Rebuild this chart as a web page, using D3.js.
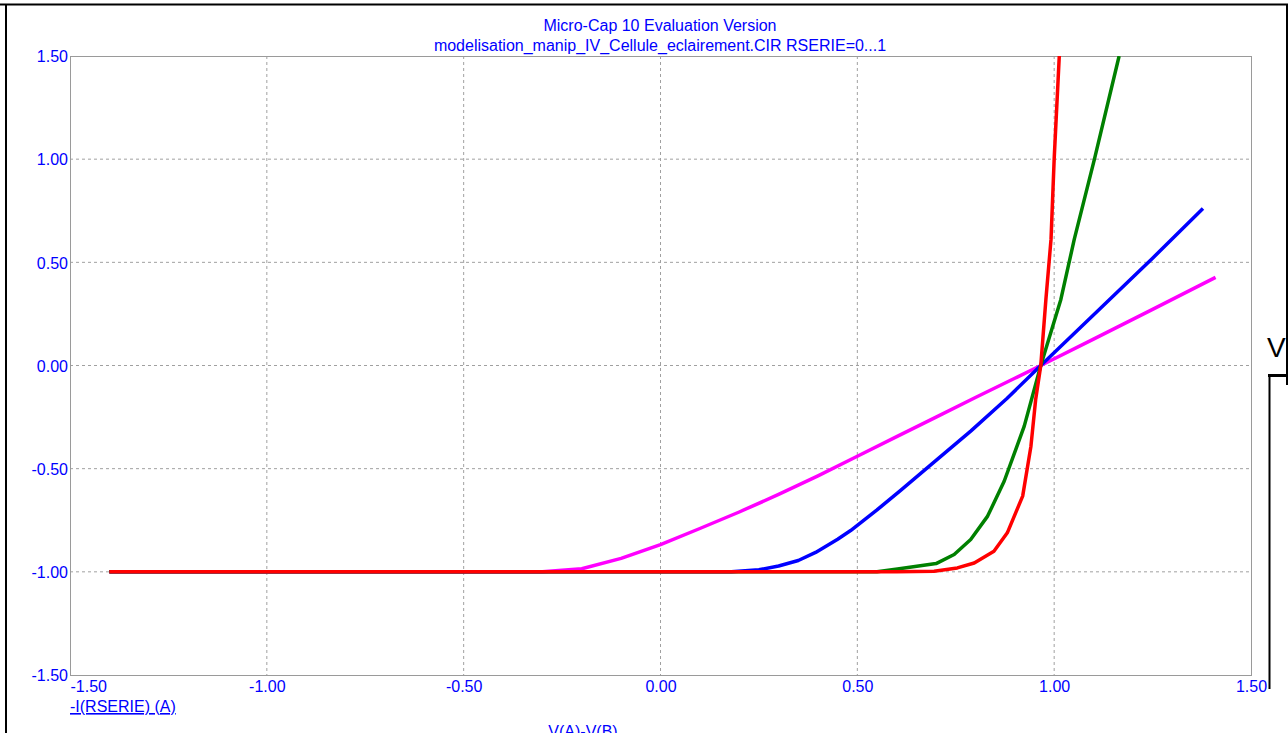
<!DOCTYPE html>
<html>
<head>
<meta charset="utf-8">
<script src="https://cdn.jsdelivr.net/npm/d3@7"></script>
<style>
  html, body { margin: 0; padding: 0; background: #fff; }
  svg { display: block; font-family: "Liberation Sans", Arial, sans-serif; }
</style>
</head>
<body>
<svg id="chart" width="1288" height="733"></svg>
<script>
// ---- data ----
const titleLines = ["Micro-Cap 10 Evaluation Version",
                    "modelisation_manip_IV_Cellule_eclairement.CIR RSERIE=0...1"];
const xTicks = [-1.5, -1.0, -0.5, 0.0, 0.5, 1.0, 1.5];
const yTicks = [-1.5, -1.0, -0.5, 0.0, 0.5, 1.0, 1.5];
const yAxisTitle = "-I(RSERIE) (A)";
const xAxisTitle = "V(A)-V(B)";

const magentaV = [-1.40, -0.3, -0.2, -0.1, 0.0, 0.1, 0.2, 0.3, 0.4, 0.5, 0.6, 0.7, 0.8, 0.9, 0.966, 1.1, 1.25, 1.41];
const magentaI = [-1.0, -1.0, -0.985, -0.935, -0.868, -0.79, -0.71, -0.625, -0.535, -0.44, -0.345, -0.25, -0.155, -0.062, 0.0, 0.128, 0.272, 0.427];

const blueV = [-1.40, 0.18, 0.25, 0.3, 0.35, 0.394, 0.45, 0.483, 0.55, 0.61, 0.7, 0.788, 0.88, 0.966, 1.119, 1.25, 1.378];
const blueI = [-1.0, -1.0, -0.99, -0.972, -0.945, -0.906, -0.842, -0.80, -0.70, -0.605, -0.46, -0.318, -0.16, 0.0, 0.28, 0.52, 0.761];

const greenV = [-1.40, 0.55, 0.602, 0.70, 0.746, 0.788, 0.831, 0.873, 0.924, 0.966, 1.017, 1.051, 1.102, 1.165];
const greenI = [-1.0, -1.0, -0.986, -0.96, -0.916, -0.843, -0.73, -0.561, -0.294, 0.0, 0.32, 0.611, 0.998, 1.5];

const redV = [-1.40, 0.60, 0.695, 0.754, 0.797, 0.847, 0.881, 0.92, 0.941, 0.953, 0.966, 0.979, 0.992, 1.0, 1.013];
const redI = [-1.0, -1.0, -0.997, -0.981, -0.957, -0.9, -0.811, -0.633, -0.391, -0.165, 0.0, 0.32, 0.611, 1.0, 1.5];

const series = [
  {name: "magenta", v: magentaV, i: magentaI, color: "#ff00ff"},
  {name: "blue",    v: blueV,    i: blueI,    color: "#0000ff"},
  {name: "green",   v: greenV,   i: greenI,   color: "#008000"},
  {name: "red",     v: redV,     i: redI,     color: "#ff0000"}
];

// ---- layout ----
const svg = d3.select("#chart");
const L = 70, R = 1251, T = 56, B = 675;
const x = d3.scaleLinear().domain([-1.5, 1.5]).range([L, R]);
const y = d3.scaleLinear().domain([-1.5, 1.5]).range([B, T]);
const blue = "#0000ff";
const gridColor = "#a0a0a0";
const fmt = d => d.toFixed(2);   // plain hyphen-minus like the original

// outer page frame lines (black)
svg.append("line").attr("x1", 0).attr("x2", 1288).attr("y1", 4.5).attr("y2", 4.5)
  .attr("stroke", "#000").attr("stroke-width", 2);
svg.append("line").attr("x1", 6).attr("x2", 6).attr("y1", 4).attr("y2", 733)
  .attr("stroke", "#000").attr("stroke-width", 2);
svg.append("line").attr("x1", 1287).attr("x2", 1287).attr("y1", 4).attr("y2", 385)
  .attr("stroke", "#000").attr("stroke-width", 2);
// right bracket + V
svg.append("line").attr("x1", 1268).attr("x2", 1288).attr("y1", 375.5).attr("y2", 375.5)
  .attr("stroke", "#000").attr("stroke-width", 3);
svg.append("line").attr("x1", 1269.5).attr("x2", 1269.5).attr("y1", 375).attr("y2", 689)
  .attr("stroke", "#000").attr("stroke-width", 2);
svg.append("text").attr("x", 1267).attr("y", 357).attr("font-size", 28)
  .attr("fill", "#000").text("V");

// grid
const grid = svg.append("g");
xTicks.filter(t => t > -1.5 && t < 1.5).forEach(t => {
  grid.append("line").attr("x1", x(t)).attr("x2", x(t)).attr("y1", T).attr("y2", B)
    .attr("stroke", gridColor).attr("stroke-width", 1).attr("stroke-dasharray", "3,3");
});
yTicks.filter(t => t > -1.5 && t < 1.5).forEach(t => {
  grid.append("line").attr("x1", L).attr("x2", R).attr("y1", y(t)).attr("y2", y(t))
    .attr("stroke", gridColor).attr("stroke-width", 1).attr("stroke-dasharray", "3,3");
});

// plot frame
svg.append("rect").attr("x", L + 0.5).attr("y", T + 0.5)
  .attr("width", R - L).attr("height", B - T)
  .attr("fill", "none").attr("stroke", "#9a9a9a").attr("stroke-width", 1);

// axes via d3
const yAxis = d3.axisLeft(y).tickValues(yTicks).tickSize(0).tickPadding(0).tickFormat(fmt);
const gy = svg.append("g").attr("transform", `translate(${L - 2},0)`).call(yAxis);
gy.select(".domain").remove();
gy.selectAll("text").attr("fill", blue).attr("font-size", 16)
  .attr("font-family", "Liberation Sans, Arial, sans-serif").attr("dy", "0.36em");

const xAxis = d3.axisBottom(x).tickValues(xTicks).tickSize(0).tickPadding(0).tickFormat(fmt);
const gx = svg.append("g").attr("transform", `translate(0,${B})`).call(xAxis);
gx.select(".domain").remove();
gx.selectAll("text").attr("fill", blue).attr("font-size", 16)
  .attr("font-family", "Liberation Sans, Arial, sans-serif")
  .attr("dy", null).attr("y", 17)
  .attr("text-anchor", d => d === -1.5 ? "start" : "middle");

// titles
titleLines.forEach((t, k) => {
  svg.append("text").attr("x", 660).attr("y", 31 + k * 20)
    .attr("text-anchor", "middle").attr("font-size", 16).attr("fill", blue).text(t);
});

// axis titles
svg.append("text").attr("x", 70).attr("y", 712).attr("font-size", 16)
  .attr("fill", blue).attr("text-decoration", "underline").text(yAxisTitle);
svg.append("text").attr("x", 583).attr("y", 737).attr("font-size", 16)
  .attr("text-anchor", "middle").attr("fill", blue).text(xAxisTitle);

// curves
const clip = svg.append("clipPath").attr("id", "plotclip");
clip.append("rect").attr("x", L).attr("y", T).attr("width", R - L).attr("height", B - T);
const line = d3.line().x(d => x(d[0])).y(d => y(d[1]));
const curves = svg.append("g").attr("clip-path", "url(#plotclip)");
series.forEach(s => {
  const pts = s.v.map((v, k) => [v, s.i[k]]);
  curves.append("path").datum(pts).attr("d", line)
    .attr("fill", "none").attr("stroke", s.color).attr("stroke-width", 3.5)
    .attr("stroke-linejoin", "round");
});
</script>
</body>
</html>
